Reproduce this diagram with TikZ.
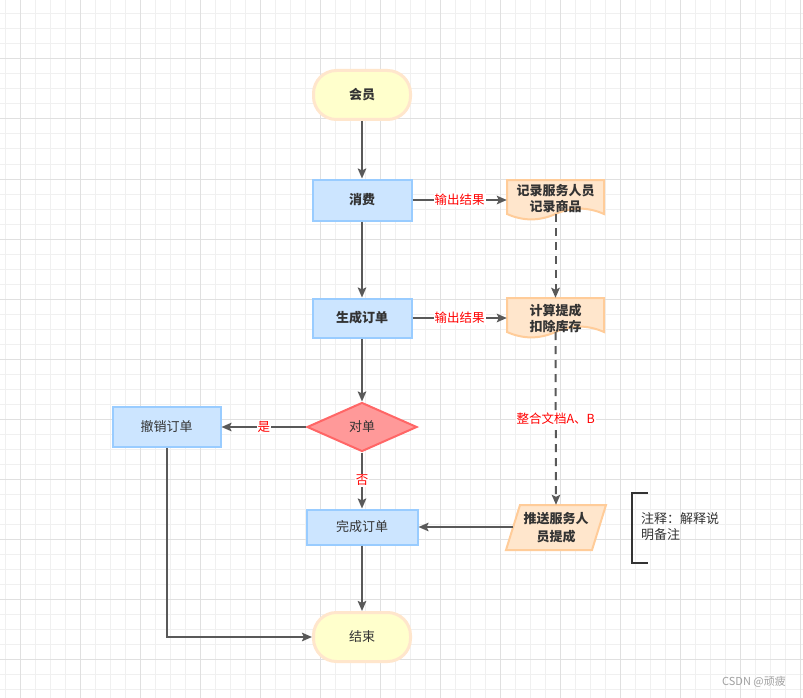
\documentclass[tikz,border=0pt]{standalone}
\usepackage{fontspec}
\setmainfont{Noto Sans CJK SC}
\usetikzlibrary{arrows.meta,shapes.geometric}
\definecolor{gminC}{HTML}{F0F0F0}
\definecolor{gmajC}{HTML}{E0E0E0}
\definecolor{txtC}{HTML}{333333}
\definecolor{blueF}{HTML}{CCE5FF}
\definecolor{blueS}{HTML}{99CCFF}
\definecolor{termF}{HTML}{FFFFCC}
\definecolor{termS}{HTML}{FFE6CC}
\definecolor{orF}{HTML}{FFE6CC}
\definecolor{orS}{HTML}{FFCC99}
\definecolor{redF}{HTML}{FF9999}
\definecolor{redS}{HTML}{FF6666}
\definecolor{arrC}{HTML}{595959}
\definecolor{labC}{HTML}{FF0000}
\definecolor{wmC}{HTML}{A0A0A0}
\begin{document}
\begin{tikzpicture}[x=1pt,y=-1pt,
  gmin/.style={draw=gminC,line width=1pt},
  gmaj/.style={draw=gmajC,line width=1pt},
  txt/.style={text=txtC,font=\fontsize{13}{16}\selectfont},
  fbold/.style={font=\fontsize{13}{16}\selectfont\bfseries},
  termbox/.style={txt,draw=termS,fill=termF,line width=3pt,rounded corners=23pt,minimum width=97pt,minimum height=49pt,inner sep=0pt},
  procbox/.style={txt,draw=blueS,fill=blueF,line width=2pt,inner sep=0pt},
  decbox/.style={txt,diamond,draw=redS,fill=redF,line width=2pt,inner sep=0pt,minimum width=110pt,minimum height=49pt},
  docbox/.style={draw=orS,fill=orF,line width=2pt},
  arr/.style={draw=arrC,line width=2pt,-{Stealth[length=10pt,width=8.5pt,inset=2pt]}},
  dsh/.style={dash pattern=on 8pt off 6pt},
  lab/.style={fill=white,text=labC,font=\fontsize{12.5}{14}\selectfont,inner sep=1pt}
]
\useasboundingbox (0,0) rectangle (803,698);
\fill[white] (0,0) rectangle (803,698);
% grid
\foreach \x in {5,20,...,800} \draw[gmin] (\x,0) -- (\x,698);
\foreach \y in {14,29,...,698} \draw[gmin] (0,\y) -- (803,\y);
\foreach \x in {20,80,...,800} \draw[gmaj] (\x,0) -- (\x,698);
\foreach \y in {59,119,...,698} \draw[gmaj] (0,\y) -- (803,\y);

% document shapes
\foreach \o in {0,118}{
  \draw[docbox] (507,{180+\o}) -- (604,{180+\o}) -- (604,{214+\o})
    .. controls (587.8,{206.8+\o}) and (571.7,{206.8+\o}) .. (555.5,{214+\o})
    .. controls (539.3,{221.2+\o}) and (523.2,{221.2+\o}) .. (507,{214+\o}) -- cycle;
}
% parallelogram
\draw[docbox] (520,505) -- (606,505) -- (592,550) -- (506,550) -- cycle;

% nodes
\node[termbox,fbold] (hy) at (362,95) {会员};
\node[procbox,fbold,minimum width=99pt,minimum height=41pt] (xf) at (362,200) {消费};
\node[procbox,fbold,minimum width=99pt,minimum height=39pt] (sc) at (362,318) {生成订单};
\node[decbox] (dd) at (362,427) {对单};
\node[procbox,minimum width=108pt,minimum height=40pt] (cx) at (166.5,427) {撤销订单};
\node[procbox,minimum width=111pt,minimum height=35pt] (wc) at (362,527) {完成订单};
\node[termbox] (js) at (362,637) {结束};

\node[txt,fbold,text=txtC,align=center,minimum width=97pt,minimum height=40pt,inner sep=0pt] (d1) at (555.5,199) {记录服务人员\\记录商品};
\node[txt,fbold,text=txtC,align=center,minimum width=97pt,minimum height=40pt,inner sep=0pt] (d2) at (555.5,318) {计算提成\\扣除库存};
\node[txt,text=txtC,font=\fontsize{13}{17.5}\selectfont\bfseries,align=center,minimum width=100pt,minimum height=45pt,inner sep=0pt] (pp) at (556,527.5) {推送服务人\\员提成};
\coordinate (d1b) at (555.5,214);
\coordinate (d2b) at (555.5,332);
\coordinate (ppl) at (513,527);

% connectors
\draw[arr] (hy) -- (xf);
\draw[arr] (xf) -- (sc);
\draw[arr] (sc) -- (dd);
\draw[arr] (dd) -- node[lab] {否} (wc);
\draw[arr] (dd) -- node[lab] {是} (cx);
\draw[arr] (wc) -- (js);
\draw[arr] (cx.south) |- (js.west);
\draw[arr] (xf) -- node[lab] {输出结果} (d1.west |- xf);
\draw[arr] (sc) -- node[lab] {输出结果} (d2.west |- sc);
\draw[arr,dsh] (d1b) -- (d2.north);
\draw[arr,dsh] (d2b) -- node[lab] {整合文档A、B} (pp.north);
\draw[arr] (ppl) -- (wc.east);

% annotation
\coordinate (nt) at (648,493);
\coordinate (nb) at (648,563);
\draw[draw=txtC,line width=2pt] (nt) -- (632,493) -- (632,563) -- (nb);
\node[txt,text=txtC,align=left,anchor=north west,inner sep=0pt] (note) at (641,512) {注释：解释说\\明备注};

% watermark
\node[text=wmC,font=\fontsize{11}{13}\selectfont,inner sep=0pt] (wm) at (754,682) {CSDN @顽疲};
\end{tikzpicture}
\end{document}
